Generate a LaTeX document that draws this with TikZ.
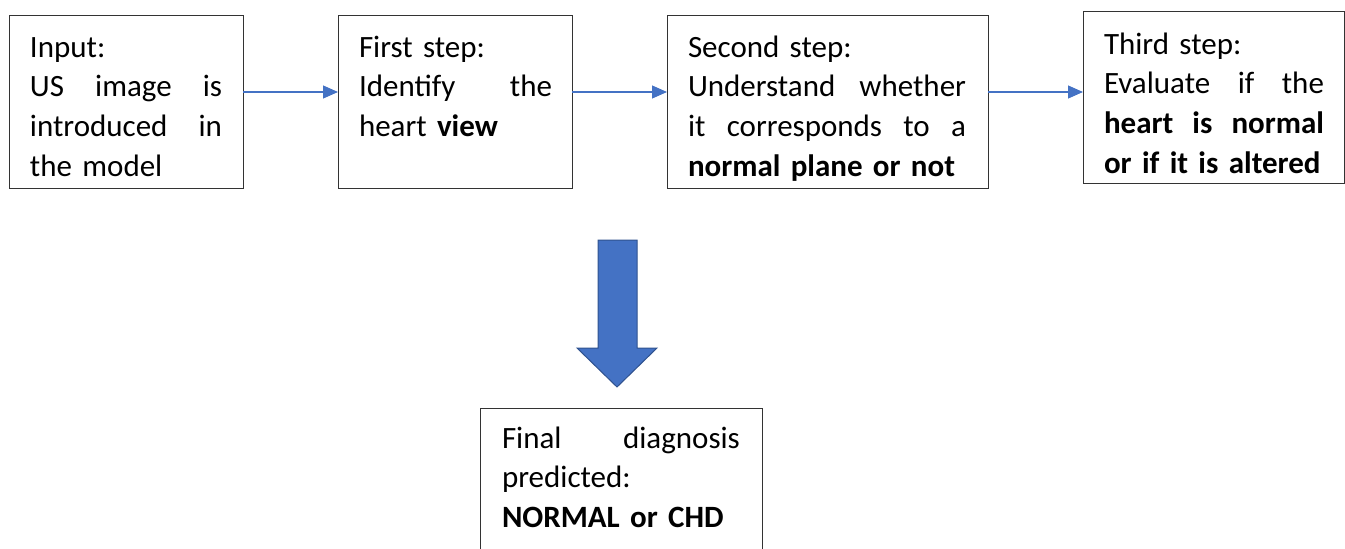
\documentclass[tikz,border=0pt]{standalone}
\usepackage{fontspec}
\setmainfont{Carlito}
\usetikzlibrary{arrows.meta,calc}
\definecolor{arrblue}{HTML}{4472C4}
\definecolor{arredge}{HTML}{2F528F}
\definecolor{boxline}{HTML}{333333}
\begin{document}
\begin{tikzpicture}[x=1pt,y=1pt,
  stepbox/.style={draw=boxline, line width=1pt, inner sep=0pt, outer sep=0pt, anchor=north west},
  txt/.style={font=\fontsize{31}{39.7}\selectfont, align=left, inner sep=0pt, outer sep=0pt, anchor=base west},
  conn/.style={draw=arrblue, line width=1.2pt, -{Triangle[length=15pt,width=13pt]}}]
\useasboundingbox (0,0) rectangle (1345,-549);
\clip (0,0) rectangle (1345,-549);

% boxes
\node[stepbox, minimum width=234pt, minimum height=173pt] (b1) at (9,-15) {};
\node[stepbox, minimum width=234pt, minimum height=173pt] (b2) at (338,-15) {};
\node[stepbox, minimum width=321pt, minimum height=173pt] (b3) at (667,-15) {};
\node[stepbox, minimum width=261pt, minimum height=172pt] (b4) at (1083,-11) {};
\node[stepbox, minimum width=282pt, minimum height=200pt] (b5) at (480,-408) {};

% texts
\node[txt, text width=192pt] (t1) at ($(b1.north west)+(21,-42)$)
  {Input:\\ US \hfill image \hfill is\\ introduced \hfill in\\ the model};
\node[txt, text width=193pt] (t2) at ($(b2.north west)+(21,-42)$)
  {First step:\\ Identify \hfill the\\ heart \textbf{view}};
\node[txt, text width=278pt] (t3) at ($(b3.north west)+(21,-42)$)
  {Second step:\\ Understand \hfill whether\\ it \hfill corresponds \hfill to \hfill a\\ \textbf{normal plane or not}};
\node[txt, text width=220pt] (t4) at ($(b4.north west)+(21,-43)$)
  {Third step:\\ Evaluate \hfill if \hfill the\\ \textbf{heart \hfill is \hfill normal}\\ \textbf{or if it is altered}};
\node[txt, text width=238pt] (t5) at ($(b5.north west)+(22,-40)$)
  {Final \hfill diagnosis\\ predicted:\\ \textbf{NORMAL or CHD}};

% thin connectors
\coordinate (c1) at ($(b1.north east)+(0,-77)$);
\coordinate (c2) at ($(b2.north east)+(0,-77)$);
\coordinate (c3) at ($(b3.north east)+(0,-77)$);
\draw[conn] (c1) -- (b2.west |- c1);
\draw[conn] (c2) -- (b3.west |- c2);
\draw[conn] (c3) -- (b4.west |- c3);

% big block arrow
\draw[fill=arrblue, draw=arredge, line width=1pt, line join=miter]
  (598,-240) -- (637,-240) -- (637,-348) -- (657,-348) -- (617,-387)
  -- (577,-348) -- (598,-348) -- cycle;
\end{tikzpicture}
\end{document}
